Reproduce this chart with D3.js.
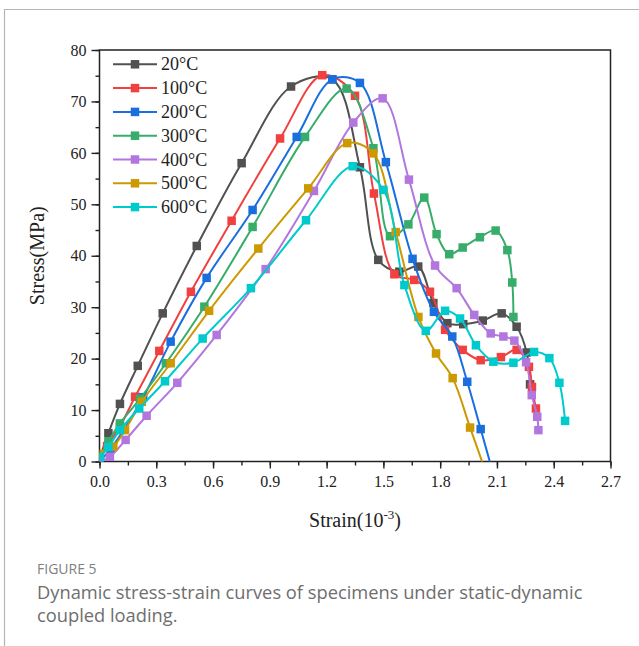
<!DOCTYPE html>
<html><head><meta charset="utf-8">
<script src="https://cdn.jsdelivr.net/npm/d3@7"></script>
<style>
html,body{margin:0;padding:0;background:#fff;}
svg{display:block;}
</style></head>
<body>
<svg id="chart" width="639" height="646"></svg>
<script>
// ---- data ----
const seriesNames = ["20°C","100°C","200°C","300°C","400°C","500°C","600°C"];
const seriesColors = ["#515151","#F14040","#1A6FDF","#37AD6B","#B177DE","#CC9900","#00CBCC"];

const strain20 = [0.0,0.047,0.108,0.202,0.334,0.514,0.751,1.012,1.230,1.376,1.473,1.584,1.684,1.764,1.838,1.922,2.025,2.125,2.204,2.257,2.275];
const stress20 = [0.5,5.5,11.2,18.6,28.8,41.9,58.0,72.9,74.3,57.2,39.2,36.9,37.9,30.8,26.9,26.7,27.4,28.8,26.2,21.2,15.0];

const strain100 = [0.0,0.04,0.108,0.188,0.316,0.483,0.698,0.954,1.177,1.350,1.450,1.558,1.663,1.746,1.826,1.919,2.014,2.121,2.204,2.269,2.285,2.306];
const stress100 = [0.0,3.0,6.8,12.6,21.5,33.0,46.8,62.8,75.1,71.1,52.1,36.4,35.3,33.0,25.6,21.7,19.7,20.3,21.7,18.4,14.5,10.3];

const strain200 = [0.0,0.06,0.231,0.376,0.566,0.809,1.042,1.230,1.376,1.513,1.654,1.767,1.864,1.943,2.014,2.085];
const stress200 = [0.0,2.5,12.5,23.3,35.7,48.9,63.1,74.3,73.6,58.2,39.4,29.1,24.3,15.5,6.3,-3];

const strain300 = [0.0,0.047,0.108,0.214,0.351,0.554,0.809,1.086,1.306,1.447,1.535,1.632,1.716,1.781,1.848,1.919,2.010,2.093,2.155,2.181,2.187];
const stress300 = [1.0,3.9,7.4,12.2,19.1,30.1,45.6,63.1,72.5,60.9,43.8,46.1,51.3,44.2,40.3,41.6,43.6,44.9,41.1,34.8,28.1];

const strain400 = [0.0,0.055,0.138,0.249,0.411,0.619,0.878,1.133,1.341,1.496,1.635,1.773,1.887,1.980,2.067,2.134,2.192,2.254,2.284,2.313,2.319];
const stress400 = [0.0,0.9,4.2,8.9,15.3,24.6,37.4,52.6,65.9,70.6,54.8,38.1,33.7,28.5,24.9,24.3,23.5,19.3,12.9,8.7,6.1];

const strain500 = [0.0,0.073,0.135,0.223,0.376,0.579,0.839,1.103,1.309,1.447,1.565,1.685,1.778,1.866,1.958,2.05];
const stress500 = [1.5,2.9,6.1,11.6,19.1,29.3,41.4,53.1,61.9,59.9,44.6,28.1,21.0,16.2,6.6,-3];

const strain600 = [0.003,0.047,0.108,0.210,0.346,0.545,0.800,1.091,1.338,1.500,1.611,1.724,1.826,1.905,1.989,2.081,2.187,2.296,2.377,2.430,2.460];
const stress600 = [0.9,2.8,6.1,10.3,15.6,23.9,33.7,46.9,57.4,52.8,34.3,25.4,29.3,27.8,22.6,19.4,19.2,21.3,20.1,15.3,7.9];

const xTicks = [0.0,0.3,0.6,0.9,1.2,1.5,1.8,2.1,2.4,2.7];
const yTicks = [0,10,20,30,40,50,60,70,80];

const strains = [strain20,strain100,strain200,strain300,strain400,strain500,strain600];
const stresses = [stress20,stress100,stress200,stress300,stress400,stress500,stress600];

// ---- chart ----
const svg = d3.select("#chart");
const L = 99.5, R = 610.5, T = 50, B = 461.5;
const x = d3.scaleLinear().domain([0,2.7]).range([L,R]);
const y = d3.scaleLinear().domain([0,80]).range([B,T]);

// figure frame (page card)
svg.append("path").attr("d","M4.5,646 L4.5,9.5 L639,9.5")
  .attr("fill","none").attr("stroke","#b5b5b5").attr("stroke-width",1.2);

svg.append("defs").append("clipPath").attr("id","clip")
  .append("rect").attr("x",L).attr("y",T).attr("width",R-L).attr("height",B-T);

const serif = "'Liberation Serif','Times New Roman',serif";

// axes
const minorX = d3.range(0,2.701,0.15);
const minorY = d3.range(0,80.01,5);

const xAxis = svg.append("g").attr("transform",`translate(0,${B})`)
  .call(d3.axisBottom(x).tickValues(minorX).tickSize(4).tickFormat(""));
xAxis.select(".domain").remove();
const xAxisMaj = svg.append("g").attr("transform",`translate(0,${B})`)
  .call(d3.axisBottom(x).tickValues(xTicks).tickSize(7).tickPadding(7).tickFormat(d3.format(".1f")));
xAxisMaj.select(".domain").remove();

const yAxis = svg.append("g").attr("transform",`translate(${L},0)`)
  .call(d3.axisLeft(y).tickValues(minorY).tickSize(4).tickFormat(""));
yAxis.select(".domain").remove();
const yAxisMaj = svg.append("g").attr("transform",`translate(${L},0)`)
  .call(d3.axisLeft(y).tickValues(yTicks).tickSize(8).tickPadding(5).tickFormat(d3.format("d")));
yAxisMaj.select(".domain").remove();

svg.selectAll(".tick line").attr("stroke","#222").attr("stroke-width",1.4);
svg.selectAll(".tick text").attr("font-family",serif).attr("font-size",16).attr("fill","#222");

// frame
svg.append("rect").attr("x",L).attr("y",T).attr("width",R-L).attr("height",B-T)
  .attr("fill","none").attr("stroke","#222").attr("stroke-width",1.5);

// series
const plot = svg.append("g").attr("clip-path","url(#clip)");
const line = d3.line().x(d=>x(d[0])).y(d=>y(d[1])).curve(d3.curveCatmullRom.alpha(0.5));
const ms = 8.5;
seriesNames.forEach((name,i)=>{
  const pts = strains[i].map((s,j)=>[s,stresses[i][j]]);
  const g = plot.append("g");
  g.append("path").attr("d",line(pts)).attr("fill","none")
    .attr("stroke",seriesColors[i]).attr("stroke-width",2);
  g.selectAll("rect").data(pts).enter().append("rect")
    .attr("x",d=>x(d[0])-ms/2).attr("y",d=>y(d[1])-ms/2)
    .attr("width",ms).attr("height",ms).attr("fill",seriesColors[i]);
});

// legend
const leg = svg.append("g");
seriesNames.forEach((name,i)=>{
  const yy = 64.3 + i*23.8;
  leg.append("line").attr("x1",113).attr("x2",157).attr("y1",yy).attr("y2",yy)
    .attr("stroke",seriesColors[i]).attr("stroke-width",2);
  leg.append("rect").attr("x",135-ms/2).attr("y",yy-ms/2).attr("width",ms).attr("height",ms)
    .attr("fill",seriesColors[i]);
  leg.append("text").attr("x",161).attr("y",yy+6).attr("font-family",serif)
    .attr("font-size",18).attr("fill","#222").text(name);
});

// axis titles
svg.append("text").attr("transform",`translate(44,${(T+B)/2}) rotate(-90)`)
  .attr("text-anchor","middle").attr("font-family",serif).attr("font-size",20).attr("fill","#222")
  .text("Stress(MPa)");
const xt = svg.append("text").attr("x",(L+R)/2).attr("y",527).attr("text-anchor","middle")
  .attr("font-family",serif).attr("font-size",20).attr("fill","#222");
xt.append("tspan").text("Strain(10");
xt.append("tspan").attr("dy",-8).attr("font-size",13).text("-3");
xt.append("tspan").attr("dy",8).text(")");

// caption
svg.append("text").attr("x",37).attr("y",574).attr("font-family","'Open Sans',sans-serif")
  .attr("font-size",14).attr("fill","#808080").text("FIGURE 5");
svg.append("text").attr("x",37).attr("y",599).attr("font-family","'Open Sans',sans-serif")
  .attr("font-size",18.3).attr("fill","#6e6e6e").text("Dynamic stress-strain curves of specimens under static-dynamic");
svg.append("text").attr("x",37).attr("y",622).attr("font-family","'Open Sans',sans-serif")
  .attr("font-size",18.3).attr("fill","#6e6e6e").text("coupled loading.");
</script>
</body></html>
